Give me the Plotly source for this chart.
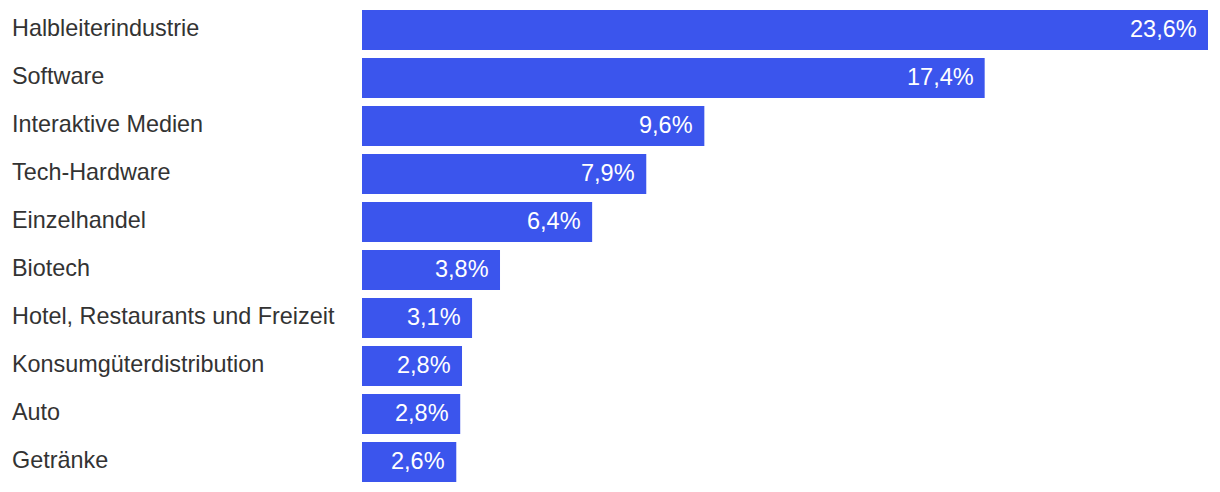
import plotly.graph_objects as go

categories = ["Halbleiterindustrie", "Software", "Interaktive Medien", "Tech-Hardware",
              "Einzelhandel", "Biotech", "Hotel, Restaurants und Freizeit",
              "Konsumgüterdistribution", "Auto", "Getränke"]
values = [23.6, 17.37, 9.55, 7.93, 6.42, 3.85, 3.07, 2.79, 2.74, 2.63]
value_labels = ["23,6%", "17,4%", "9,6%", "7,9%", "6,4%", "3,8%", "3,1%", "2,8%", "2,8%", "2,6%"]

W, H = 1220, 492
ML, MR, MT, MB = 362, 12, 6, 6
plot_w = W - ML - MR

BAR = "#3B55ED"
FONT = "Liberation Sans, Arial, Helvetica, sans-serif"

fig = go.Figure(go.Bar(
    x=values, y=categories, orientation="h",
    marker=dict(color=BAR, line=dict(width=0)),
    hoverinfo="skip",
))

annotations = []
for c, v, t in zip(categories, values, value_labels):
    annotations.append(dict(x=v, y=c, xref="x", yref="y", text=t, showarrow=False,
                            xanchor="right", xshift=-9, yshift=1,
                            font=dict(family=FONT, size=23.5, color="white")))
    annotations.append(dict(x=(10 - ML) / plot_w, y=c, xref="paper", yref="y", text=c,
                            showarrow=False, xanchor="left", yshift=2,
                            font=dict(family=FONT, size=23.4, color="#333333")))

fig.update_layout(
    width=W, height=H,
    margin=dict(l=ML, r=MR, t=MT, b=MB),
    paper_bgcolor="white", plot_bgcolor="white",
    bargap=8 / 48,
    showlegend=False,
    xaxis=dict(range=[0, max(values)], visible=False, fixedrange=True),
    yaxis=dict(autorange="reversed", showticklabels=False, showgrid=False,
               zeroline=False, showline=False, ticks="", fixedrange=True),
    annotations=annotations,
)

fig.write_html("out.html", config={"displayModeBar": False},
               post_script="document.body.style.margin='0';document.body.style.overflow='hidden';")
